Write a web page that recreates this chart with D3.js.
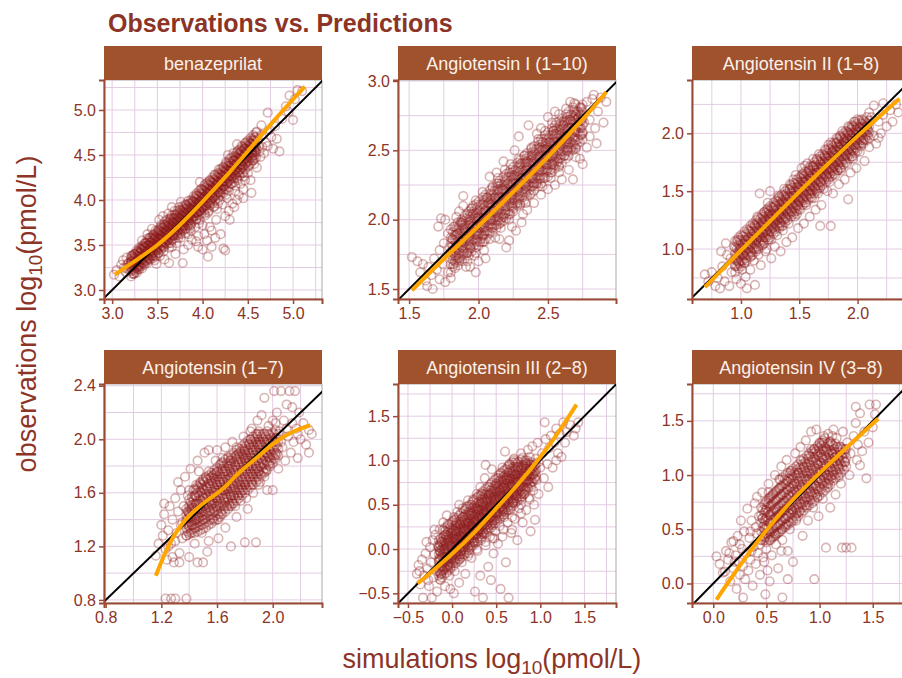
<!DOCTYPE html>
<html>
<head>
<meta charset="utf-8">
<script src="https://cdn.jsdelivr.net/npm/d3@7"></script>
<style>
  body { margin: 0; background: #fff; }
  svg { display: block; }
</style>
</head>
<body>
<script>
// Panels: one per analyte, observed vs simulated concentrations on log10 scale
const analytes = [
  "benazeprilat",
  "Angiotensin I (1\u221210)",
  "Angiotensin II (1\u22128)",
  "Angiotensin (1\u22127)",
  "Angiotensin III (2\u22128)",
  "Angiotensin IV (3\u22128)"
];

// Axis ranges (log10 pmol/L) and tick spacing per panel
const xDomains = [[2.91, 5.32], [1.42, 2.99], [0.58, 2.45], [0.788, 2.354], [-0.613, 1.858], [-0.2, 1.85]];
const yDomains = [[2.9, 5.333], [1.428, 3.007], [0.568, 2.461], [0.777, 2.413], [-0.609, 1.863], [-0.18, 1.84]];
const tickSteps = [0.5, 0.5, 0.5, 0.4, 0.5, 0.5];

// Individual observations as "simulated,observed" pairs
const benazeprilatPts = `
3.02,3.17 3.05,3.22 3.08,3.15 3.10,3.28 3.12,3.33 3.15,3.20 3.18,3.30 3.20,3.25 3.22,3.38 3.24,3.18 3.26,3.32 3.28,3.42 3.30,3.28 3.16,3.36 3.21,3.31 3.27,3.24 3.29,3.36 3.13,3.25
3.32,3.45 3.34,3.38 3.35,3.30 3.37,3.52 3.38,3.42 3.40,3.35 3.41,3.58 3.42,3.47 3.44,3.40 3.45,3.55 3.46,3.62 3.47,3.33 3.48,3.50 3.50,3.44 3.51,3.66 3.52,3.56 3.53,3.38 3.54,3.70 3.55,3.49 3.56,3.60 3.57,3.43 3.58,3.76 3.59,3.53 3.60,3.64 3.36,3.48 3.39,3.62 3.43,3.53 3.49,3.29 3.37,3.37 3.48,3.37 3.52,3.78 3.58,3.34 3.33,3.55 3.44,3.68 3.56,3.82
3.61,3.58 3.62,3.72 3.63,3.47 3.64,3.66 3.65,3.80 3.66,3.55 3.67,3.70 3.68,3.62 3.69,3.88 3.70,3.67 3.71,3.52 3.72,3.76 3.73,3.64 3.74,3.92 3.75,3.70 3.76,3.58 3.77,3.82 3.78,3.74 3.79,3.45 3.80,3.86 3.81,3.68 3.82,3.95 3.83,3.78 3.84,3.62 3.85,3.90 3.86,3.74 3.87,3.84 3.88,3.56 3.89,3.98 3.63,3.30 3.78,3.30 3.70,3.40 3.66,3.92 3.72,3.84 3.84,3.50 3.87,3.66 3.76,3.98 3.62,3.85 3.80,3.72 3.68,3.76
3.90,3.82 3.91,3.93 3.92,3.70 3.93,4.05 3.94,3.86 3.95,3.60 3.96,3.98 3.97,3.78 3.98,4.12 3.99,3.90 4.00,3.72 4.01,4.02 4.02,3.85 4.03,4.18 4.04,3.94 4.05,3.55 4.06,4.08 4.07,3.88 4.08,4.22 4.09,3.98 4.10,3.66 4.11,4.12 4.12,3.92 4.13,4.28 4.14,4.04 4.15,3.78 4.16,4.16 4.17,3.96 4.18,4.34 4.19,4.08 4.06,3.37 4.10,3.48 4.00,3.45 3.95,3.48 4.14,3.58 4.20,3.62 3.93,3.54 4.02,3.62 4.08,3.70 3.97,4.20
4.21,4.20 4.22,3.95 4.23,4.36 4.23,3.46 4.25,3.44 4.24,4.12 4.26,4.42 4.27,4.02 4.28,4.26 4.29,3.88 4.30,4.46 4.30,3.78 4.31,4.18 4.32,4.32 4.33,3.96 4.34,4.52 4.35,4.24 4.36,4.10 4.37,4.40 4.38,4.00 4.39,4.55 4.40,4.30 4.40,4.06 4.41,4.46 4.42,4.18 4.43,4.60 4.44,4.36 4.45,4.12 4.46,4.50 4.47,4.22 4.48,4.64 4.49,4.42 4.25,3.82 4.35,3.92 4.28,4.50 4.38,4.62 4.45,4.02
4.50,4.30 4.52,4.56 4.54,4.08 4.55,4.44 4.56,4.66 4.58,4.54 4.60,4.36 4.62,4.60 4.64,4.48 4.65,4.72 4.66,4.59 4.68,4.52 4.70,4.64 4.72,4.60 4.72,4.97 4.74,4.78 4.76,4.70 4.78,4.57 4.80,4.82 4.82,4.68 4.85,4.54 4.88,4.90 4.65,4.83 4.60,4.76 4.53,4.22 4.57,4.40
4.96,5.16 5.05,5.22 5.10,5.21 5.00,4.89 4.95,4.98 4.92,5.04 5.02,5.12
3.15,3.24 3.17,3.29 3.19,3.22 3.21,3.35 3.23,3.27 3.25,3.40 3.27,3.30 3.29,3.26 3.31,3.42 3.33,3.34 3.35,3.47 3.37,3.40 3.39,3.33 3.41,3.50 3.43,3.44 3.45,3.38 3.47,3.57 3.49,3.47 3.51,3.41 3.53,3.61 3.55,3.53 3.57,3.48 3.59,3.66 3.61,3.55 3.63,3.62 3.65,3.52 3.67,3.74 3.69,3.61 3.71,3.70 3.73,3.58 3.75,3.80 3.77,3.69 3.79,3.77 3.81,3.63 3.83,3.86 3.85,3.79 3.87,3.72 3.89,3.91 3.91,3.85 3.93,3.78 3.95,3.95 3.97,3.88 3.99,4.00 4.01,3.92 4.03,3.83 4.05,4.06 4.07,3.96 4.09,4.11 4.11,4.02 4.13,3.93 4.15,4.18 4.17,4.08 4.19,4.00 4.21,4.26 4.23,4.15 4.25,4.32 4.27,4.20 4.29,4.10 4.31,4.38 4.33,4.26 4.35,4.44 4.37,4.34 4.39,4.22 4.41,4.52 4.43,4.40 4.45,4.30 4.47,4.57 4.49,4.48 4.51,4.38 4.53,4.62 4.55,4.52 4.57,4.46 4.59,4.58 4.61,4.68 4.63,4.54
3.66,3.48 3.76,3.62 3.86,3.68 3.96,3.74 4.06,3.86 4.16,3.90 4.26,4.06 4.36,4.16 4.46,4.26`;

const angI_Pts = `
1.52,1.73 1.56,1.70 1.58,1.62 1.60,1.68 1.62,1.56 1.64,1.66 1.66,1.60 1.68,1.72 1.70,1.64 1.72,1.57 1.74,1.68 1.76,1.55 1.78,1.62 1.80,1.58 1.63,1.52 1.67,1.50 1.72,1.78 1.75,1.83 1.71,1.95 1.73,2.01 1.76,2.00 1.78,1.90 1.80,1.75 1.82,1.68 1.79,1.80
1.81,1.86 1.82,1.95 1.83,1.78 1.84,2.02 1.85,1.90 1.86,1.72 1.87,1.98 1.88,1.84 1.89,2.10 1.90,1.93 1.91,1.66 1.92,2.04 1.93,1.88 1.94,1.80 1.95,2.08 1.96,1.95 1.97,1.74 1.98,2.14 1.99,1.90 2.00,2.02 2.01,1.84 2.02,1.96 2.03,2.20 2.04,1.78 2.05,2.06 2.06,1.92 2.07,2.12 2.08,1.86 2.09,2.00 2.10,2.24 1.89,2.17 1.94,1.66 1.98,1.62 2.05,1.72 1.86,2.06 1.92,1.76 2.00,1.70 2.08,2.31 1.96,2.10 2.03,1.88
2.11,2.06 2.12,1.87 2.12,2.16 2.13,1.96 2.14,2.30 2.15,2.08 2.16,1.94 2.17,2.22 2.18,2.02 2.19,2.36 2.20,1.80 2.20,2.14 2.21,2.26 2.22,2.00 2.23,2.40 2.24,2.18 2.25,2.08 2.26,2.32 2.27,1.92 2.28,2.22 2.29,2.60 2.29,2.44 2.30,2.12 2.31,2.30 2.32,2.04 2.33,2.46 2.34,2.24 2.35,2.07 2.35,2.38 2.36,2.68 2.37,2.18 2.38,2.52 2.39,2.30 2.40,2.12 2.15,1.86 2.22,1.85 2.18,2.42 2.26,2.50 2.13,2.34 2.31,1.98 2.24,1.95
2.41,2.44 2.42,2.26 2.43,2.58 2.44,2.36 2.45,2.18 2.46,2.50 2.47,2.30 2.48,2.64 2.49,2.40 2.50,2.22 2.51,2.56 2.52,2.34 2.53,2.70 2.54,2.48 2.55,2.25 2.56,2.62 2.57,2.42 2.58,2.76 2.59,2.54 2.60,2.29 2.61,2.68 2.62,2.46 2.63,2.80 2.64,2.58 2.65,2.36 2.66,2.72 2.67,2.52 2.68,2.29 2.69,2.84 2.70,2.64 2.45,2.66 2.50,2.74 2.55,2.78 2.42,2.62 2.58,2.38 2.62,2.60 2.48,2.50 2.53,2.40 2.66,2.85 2.56,2.70
2.71,2.54 2.72,2.74 2.73,2.44 2.74,2.80 2.75,2.62 2.76,2.70 2.78,2.52 2.78,2.85 2.80,2.60 2.80,2.72 2.82,2.87 2.84,2.66 2.86,2.78 2.88,2.88 2.90,2.70 2.92,2.85 2.85,2.55 2.75,2.40 2.70,2.45 2.83,2.90
1.92,1.70 1.98,1.76 2.04,1.84 2.10,1.94 2.16,1.98 2.22,2.04 2.28,2.12 2.34,2.12 2.40,2.26 2.46,2.24 2.52,2.30 2.58,2.34 2.64,2.50 2.70,2.52 1.88,1.98 1.96,2.04 2.06,2.16 2.14,2.26 2.22,2.34 2.30,2.40 2.38,2.46 2.46,2.56 2.54,2.64 2.62,2.70 2.70,2.76`;

const angII_Pts = `
0.69,0.78 0.72,0.72 0.75,0.80 0.78,0.68 0.80,0.75 0.82,0.66 0.84,0.85 0.86,0.72 0.88,0.95 0.90,0.68 0.92,0.80 0.94,1.02 0.96,0.74 0.98,0.88 1.00,0.70 1.02,0.96 1.05,0.66 1.08,0.82 1.12,0.69 0.87,1.05 0.91,0.92 0.95,0.85 0.99,1.00 1.03,0.88 1.06,1.04 1.09,0.94 1.04,0.76 0.83,0.98 0.97,1.08 1.01,0.82
1.10,1.08 1.11,0.90 1.12,1.20 1.13,1.00 1.14,1.28 1.15,0.95 1.16,1.48 1.16,1.12 1.17,0.86 1.18,1.22 1.19,1.04 1.20,1.32 1.21,0.98 1.22,1.16 1.23,1.40 1.24,1.08 1.25,1.50 1.25,1.26 1.26,0.92 1.27,1.18 1.28,1.36 1.29,1.02 1.30,1.28 1.31,1.12 1.32,1.44 1.33,1.20 1.34,0.98 1.35,1.34 1.36,1.16 1.37,1.52 1.38,1.26 1.39,1.06 1.40,1.40 1.14,1.10 1.22,1.00 1.28,1.22 1.33,1.30 1.19,1.14 1.36,1.42 1.24,1.30
1.41,1.22 1.42,1.56 1.43,1.32 1.44,1.10 1.45,1.46 1.46,1.28 1.47,1.64 1.48,1.38 1.49,1.18 1.50,1.52 1.51,1.34 1.52,1.70 1.53,1.44 1.54,1.22 1.55,1.58 1.56,1.40 1.57,1.74 1.58,1.50 1.59,1.28 1.60,1.62 1.61,1.44 1.62,1.78 1.63,1.54 1.64,1.34 1.65,1.66 1.66,1.48 1.67,1.82 1.68,1.58 1.68,1.20 1.69,1.38 1.70,1.70 1.45,1.60 1.50,1.42 1.55,1.72 1.60,1.48 1.65,1.78 1.48,1.30 1.58,1.68 1.63,1.44 1.53,1.58
1.71,1.52 1.72,1.86 1.73,1.64 1.74,1.50 1.75,1.76 1.76,1.58 1.77,1.20 1.77,1.92 1.78,1.70 1.79,1.48 1.80,1.82 1.81,1.64 1.82,1.96 1.83,1.76 1.84,1.56 1.85,1.88 1.86,1.70 1.87,2.02 1.88,1.80 1.89,1.60 1.90,1.92 1.91,1.74 1.92,1.43 1.92,2.06 1.93,1.86 1.94,1.66 1.95,1.96 1.96,1.78 1.97,2.10 1.98,1.90 1.99,1.70 2.00,2.02 1.75,1.90 1.80,1.72 1.85,1.98 1.90,1.82 1.95,2.05 1.83,1.68 1.88,1.92 1.78,1.84
2.02,1.84 2.04,2.12 2.05,1.94 2.06,1.76 2.08,2.06 2.10,1.88 2.12,2.14 2.14,2.24 2.14,1.98 2.16,1.91 2.18,2.10 2.20,2.00 2.22,2.26 2.22,2.16 2.25,2.06 2.28,2.20 2.30,2.10 2.33,2.25 2.35,2.18 2.10,2.18 2.06,2.02 2.18,1.96
1.22,1.34 1.32,1.46 1.42,1.52 1.52,1.64 1.62,1.72 1.72,1.80 1.82,1.92 1.92,2.00 1.26,1.08 1.36,1.20 1.46,1.32 1.56,1.38 1.66,1.52 1.76,1.62 1.86,1.68 1.96,1.80`;

const ang17_Pts = `
1.23,0.81 1.27,0.81 1.30,0.81 1.38,0.81
1.16,1.13 1.18,1.22 1.20,1.36 1.21,1.28 1.22,1.44 1.23,1.18 1.24,1.10 1.25,1.32 1.26,1.50 1.27,1.22 1.28,1.40 1.29,1.08 1.30,1.56 1.31,1.30 1.32,1.46 1.33,1.15 1.34,1.62 1.35,1.38 1.25,1.20 1.30,1.24 1.33,1.08 1.28,1.12 1.22,1.52 1.35,1.26 1.32,1.68
1.36,1.50 1.37,1.72 1.38,1.28 1.39,1.58 1.40,1.12 1.40,1.44 1.41,1.78 1.42,1.36 1.43,1.62 1.44,1.22 1.45,1.52 1.46,1.84 1.46,1.08 1.47,1.42 1.48,1.68 1.49,1.30 1.50,1.56 1.50,1.08 1.51,1.90 1.52,1.46 1.53,1.64 1.54,1.24 1.54,1.92 1.55,1.54 1.42,1.48 1.45,1.66 1.48,1.48 1.52,1.72 1.38,1.40 1.44,1.58 1.50,1.40 1.53,1.16 1.47,1.76 1.41,1.30
1.56,1.72 1.57,1.40 1.58,1.60 1.59,1.84 1.60,1.92 1.60,1.50 1.61,1.26 1.62,1.68 1.63,1.44 1.64,1.78 1.65,1.56 1.66,1.94 1.66,1.34 1.67,1.64 1.68,1.86 1.69,1.50 1.70,1.72 1.70,1.20 1.71,1.98 1.72,1.58 1.73,1.80 1.74,1.42 1.75,1.68 1.58,1.74 1.62,1.52 1.64,1.62 1.68,1.70 1.72,1.66 1.74,1.88 1.60,1.66 1.66,1.76 1.70,1.58 1.63,1.82 1.57,1.58 1.73,1.50
1.76,1.90 1.77,1.54 1.78,1.76 1.79,2.02 1.80,1.66 1.80,1.23 1.81,1.84 1.82,1.48 1.83,1.96 1.84,1.72 1.85,2.08 1.86,1.60 1.87,1.88 1.88,1.23 1.88,1.78 1.89,2.14 1.90,1.66 1.91,1.96 1.92,1.84 1.93,2.04 1.94,1.72 1.94,2.31 1.95,1.90 1.78,1.62 1.82,1.80 1.86,1.92 1.90,1.76 1.84,2.00 1.92,2.18 1.80,1.92
1.96,1.62 1.97,2.10 1.98,1.82 2.00,1.62 2.00,2.00 2.01,2.36 2.02,1.88 2.03,2.20 2.04,1.78 2.05,2.06 2.06,2.36 2.07,1.94 2.08,2.14 2.09,1.84 2.10,2.26 2.11,2.02 2.12,2.36 2.13,1.90 2.14,2.12 2.15,1.98 2.16,2.36 2.17,2.08 2.18,1.86 2.19,2.20 2.20,2.00 2.22,2.12 2.24,1.96 2.26,2.07 2.26,1.90 2.28,2.04 2.06,1.98 2.10,2.08 2.02,2.12 2.14,2.24 2.18,2.04
1.40,1.62 1.45,1.40 1.50,1.70 1.55,1.46 1.60,1.76 1.65,1.50 1.70,1.84 1.75,1.58 1.80,1.86 1.85,1.66 1.90,1.96 1.95,1.76 2.00,2.14 1.49,1.64 1.54,1.76 1.59,1.70 1.64,1.86 1.69,1.80 1.74,1.94 1.79,1.88 1.84,2.06 1.89,2.04 1.56,1.52 1.61,1.40 1.66,1.62 1.71,1.52 1.76,1.66 1.81,1.56 1.86,1.74 1.91,1.68 1.34,1.36 1.39,1.46 1.44,1.34`;

const angIII_Pts = `
-0.40,-0.28 -0.38,-0.18 -0.36,-0.40 -0.34,-0.12 -0.32,-0.30 -0.30,-0.05 -0.29,0.08 -0.28,-0.22 -0.26,-0.42 -0.25,0.02 -0.24,-0.15 -0.23,-0.55 -0.22,0.10 -0.21,-0.32 -0.20,-0.06 -0.19,0.16 -0.18,-0.25 -0.17,-0.48 -0.16,0.04 -0.15,-0.12 -0.14,0.22 -0.13,-0.35 -0.12,0.08 -0.11,-0.20 -0.10,0.30 -0.33,-0.55 -0.27,-0.35 -0.20,0.22 -0.14,-0.02 -0.37,-0.25
-0.09,0.00 -0.08,-0.42 -0.07,0.16 -0.06,0.38 -0.05,-0.18 -0.04,0.10 -0.03,-0.30 -0.02,0.24 -0.02,-0.45 -0.01,0.04 0.00,-0.10 0.01,0.32 0.02,0.12 0.03,-0.25 0.04,0.20 0.05,-0.05 0.06,0.42 0.07,0.06 0.08,-0.38 0.09,0.28 0.10,0.14 0.11,-0.15 0.12,0.36 0.13,0.02 0.14,0.22 0.15,-0.28 0.16,0.48 0.17,0.10 0.18,0.30 0.19,-0.05 0.20,0.18 -0.05,0.28 0.00,0.18 0.05,0.30 0.10,-0.02 0.15,0.08 0.18,0.55 0.02,-0.50 0.08,0.50 0.12,0.20
0.21,0.38 0.22,-0.10 0.23,0.26 0.24,0.56 0.25,0.08 0.26,-0.48 0.26,0.32 0.27,0.16 0.28,0.62 0.29,-0.02 0.30,0.44 0.31,0.22 0.32,-0.30 0.32,0.70 0.33,0.10 0.34,0.36 0.35,-0.55 0.35,0.52 0.36,0.18 0.37,0.80 0.38,0.04 0.39,0.42 0.40,0.28 0.41,-0.20 0.42,0.62 0.43,0.14 0.44,0.48 0.45,0.90 0.46,0.32 0.47,-0.05 0.48,0.56 0.49,0.20 0.50,0.74 0.24,0.30 0.30,0.20 0.36,0.40 0.42,0.34 0.28,0.46 0.40,0.56 0.46,0.12 0.34,0.62 0.44,-0.35 0.38,0.95
0.51,0.40 0.52,0.06 0.53,0.60 0.54,0.26 0.55,-0.45 0.55,0.86 0.56,0.48 0.57,0.14 0.58,0.70 0.59,0.36 0.60,1.10 0.60,0.54 0.61,-0.15 0.62,0.78 0.63,0.30 0.64,-0.55 0.64,0.62 0.65,0.96 0.66,0.44 0.67,0.18 0.68,0.72 0.69,0.52 0.70,1.02 0.71,0.34 0.72,0.84 0.73,0.60 0.74,0.10 0.75,0.92 0.76,0.46 0.77,0.70 0.78,1.08 0.79,0.56 0.80,0.30 0.54,0.66 0.58,0.44 0.62,0.58 0.66,0.80 0.70,0.64 0.74,0.76 0.78,0.40 0.57,0.92 0.68,0.22
0.81,0.82 0.82,0.62 0.83,1.00 0.84,0.44 0.85,0.76 0.86,1.12 0.87,0.58 0.88,0.90 0.89,0.20 0.90,0.70 0.91,1.16 0.92,0.84 0.93,0.50 0.94,0.33 0.95,1.02 0.96,0.78 0.97,1.20 0.98,0.62 1.00,0.92 1.02,1.08 1.04,0.80 1.05,1.43 1.06,1.24 1.08,0.96 1.09,0.70 1.10,1.14 0.88,1.04 0.92,0.66 0.98,0.98 0.84,0.96
1.12,1.28 1.14,0.92 1.16,1.20 1.18,1.36 1.20,1.08 1.22,1.30 1.24,1.04 1.26,1.43 1.28,1.20 1.30,1.32 1.34,1.40 1.38,1.28 1.43,1.43 1.40,1.36 1.18,1.00
-0.15,0.02 -0.08,0.20 0.02,0.36 0.12,0.46 0.22,0.50 0.32,0.60 0.42,0.70 0.52,0.80 0.62,0.90 0.72,0.98 -0.12,-0.28 -0.02,-0.20 0.08,-0.12 0.18,-0.08 0.28,0.00 0.38,0.08 0.48,0.12 0.58,0.22 0.68,0.36 0.78,0.50 0.88,0.56`;

const angIV_Pts = `
0.03,0.25 0.06,0.18 0.09,0.10 0.11,0.11 0.12,0.30 0.14,0.22 0.16,0.02 0.17,0.38 0.19,0.39 0.19,0.14 0.21,0.26 0.22,-0.05 0.23,0.44 0.24,0.20 0.25,0.08 0.26,0.58 0.27,0.32 0.28,-0.13 0.28,0.16 0.29,0.48 0.30,0.04 0.20,0.20 0.25,0.36 0.15,0.28
0.31,0.28 0.32,0.69 0.33,0.12 0.34,0.42 0.35,0.22 0.36,0.58 0.37,-0.02 0.38,0.34 0.39,0.74 0.40,0.18 0.41,0.80 0.41,0.46 0.42,0.28 0.43,0.62 0.44,0.08 0.45,0.40 0.46,0.84 0.47,0.24 0.48,0.54 0.49,-0.10 0.50,0.70 0.50,0.32 0.51,0.12 0.52,0.92 0.53,0.46 0.54,0.62 0.55,0.26 0.36,0.30 0.40,0.52 0.44,0.36 0.48,0.20 0.52,0.78 0.35,0.48 0.46,0.60 0.53,0.02
0.56,0.82 0.57,0.48 0.58,1.00 0.59,0.36 0.60,0.66 0.61,0.14 0.62,0.88 0.63,0.54 0.64,1.08 0.65,-0.13 0.65,0.40 0.66,0.74 0.67,0.96 0.68,0.60 0.69,1.14 0.70,0.30 0.71,0.82 0.72,0.50 0.73,1.04 0.74,0.68 0.75,0.20 0.76,0.92 0.77,1.20 0.78,0.58 0.79,0.80 0.80,1.02 0.64,0.30 0.70,0.04
0.81,0.66 0.82,1.26 0.83,0.88 0.84,0.44 0.85,1.08 0.86,0.76 0.87,1.32 0.88,0.96 0.89,0.58 0.90,1.18 0.91,0.84 0.92,1.40 0.93,1.02 0.94,0.70 0.95,1.24 0.95,0.04 0.96,0.90 0.97,1.42 0.98,1.10 0.99,0.62 1.00,1.30 1.01,0.96 1.02,1.16 1.03,0.78 1.04,1.36 1.05,1.04
1.06,1.22 1.07,0.88 1.08,1.38 1.09,1.08 1.10,0.70 1.10,1.30 1.12,1.00 1.13,1.42 1.14,1.16 1.15,0.82 1.16,1.34 1.18,1.06 1.19,1.26 1.20,0.92 1.21,0.33 1.22,1.40 1.24,1.12 1.25,0.33 1.26,1.30 1.28,1.00 1.29,1.20 1.30,0.33 1.08,1.00 1.12,1.20 1.18,1.14 1.24,1.24 1.06,0.33
1.32,1.36 1.34,1.63 1.35,1.14 1.36,1.28 1.38,1.09 1.38,1.57 1.40,1.22 1.42,1.40 1.44,0.97 1.46,1.30 1.47,1.65 1.50,1.44 1.53,1.65 1.52,1.56 1.34,1.48
0.52,0.84 0.62,0.96 0.72,1.02 0.82,1.14 0.92,1.24 1.02,1.30 1.12,1.36 0.48,0.40 0.58,0.46 0.68,0.54 0.78,0.64 0.88,0.72 0.98,0.80 1.08,0.92 1.18,0.98`;

// Dense cores: observations grouped by shared simulated value, "sim:obs/obs/..."
const benazeprilatCols = `
3.21:3.15/3.21/3.25/3.29/3.32/3.38 3.24:3.18/3.22/3.27/3.30/3.36/3.40 3.27:3.19/3.25/3.30/3.33/3.38/3.44 3.30:3.23/3.26/3.32/3.37/3.41/3.47
3.33:3.24/3.30/3.34/3.39/3.45/3.49 3.36:3.28/3.33/3.37/3.43/3.47/3.52 3.39:3.30/3.35/3.41/3.45/3.50/3.57 3.42:3.34/3.38/3.43/3.49/3.52/3.58
3.45:3.35/3.42/3.46/3.51/3.57/3.61 3.48:3.39/3.44/3.49/3.55/3.59/3.66 3.51:3.41/3.48/3.52/3.57/3.63/3.67 3.54:3.45/3.50/3.56/3.60/3.65/3.72
3.57:3.47/3.54/3.58/3.64/3.69/3.73 3.60:3.51/3.56/3.61/3.66/3.71/3.78 3.63:3.52/3.59/3.63/3.69/3.74/3.79 3.66:3.56/3.61/3.67/3.71/3.76/3.83
3.69:3.57/3.64/3.68/3.74/3.80/3.84 3.72:3.61/3.66/3.71/3.77/3.81/3.88 3.75:3.63/3.69/3.75/3.79/3.85/3.89 3.78:3.66/3.72/3.76/3.82/3.87/3.93
3.81:3.68/3.75/3.80/3.84/3.90/3.95 3.84:3.72/3.77/3.82/3.88/3.92/3.99 3.87:3.73/3.80/3.85/3.90/3.96/4.00 3.90:3.77/3.82/3.88/3.93/3.98/4.04
3.93:3.79/3.86/3.90/3.96/4.01/4.07 3.96:3.83/3.88/3.94/3.98/4.04/4.10 3.99:3.85/3.92/3.96/4.02/4.07/4.12 4.02:3.89/3.94/4.00/4.04/4.10/4.16
4.05:3.90/3.97/4.02/4.08/4.12/4.19 4.08:3.94/4.00/4.06/4.10/4.16/4.21 4.11:3.96/4.03/4.08/4.14/4.19/4.25 4.14:4.00/4.06/4.12/4.16/4.22/4.28
4.17:4.02/4.09/4.14/4.20/4.25/4.30 4.20:4.06/4.12/4.18/4.22/4.28/4.34 4.23:4.08/4.15/4.20/4.26/4.31/4.37 4.26:4.12/4.18/4.24/4.29/4.34/4.40
4.29:4.14/4.21/4.26/4.32/4.38/4.43 4.32:4.18/4.24/4.30/4.35/4.40/4.47 4.35:4.20/4.28/4.33/4.38/4.44/4.49 4.38:4.24/4.30/4.36/4.42/4.47/4.53
4.41:4.27/4.34/4.39/4.45/4.50/4.56 4.44:4.30/4.37/4.43/4.48/4.54/4.59 4.47:4.34/4.40/4.46/4.51/4.57/4.63 4.50:4.37/4.43/4.49/4.55/4.60/4.66
4.53:4.40/4.47/4.52/4.58/4.63/4.69 4.56:4.44/4.50/4.56/4.61/4.66/4.72 4.59:4.47/4.53/4.59/4.64/4.70/4.75
3.225:3.18/3.23/3.28/3.33/3.38 3.255:3.20/3.25/3.31/3.35/3.40 3.285:3.23/3.28/3.33/3.38/3.43 3.315:3.26/3.31/3.36/3.41/3.46
3.345:3.29/3.34/3.39/3.44/3.49 3.375:3.32/3.37/3.42/3.47/3.52 3.405:3.35/3.40/3.45/3.50/3.55 3.435:3.38/3.43/3.48/3.53/3.58
3.465:3.41/3.46/3.51/3.56/3.61 3.495:3.44/3.49/3.54/3.59/3.64 3.525:3.47/3.52/3.57/3.61/3.66 3.555:3.49/3.54/3.59/3.64/3.69
3.585:3.52/3.57/3.62/3.67/3.72 3.615:3.55/3.60/3.65/3.70/3.75 3.645:3.58/3.63/3.68/3.73/3.78 3.675:3.60/3.65/3.70/3.75/3.80
3.705:3.63/3.68/3.73/3.78/3.83 3.735:3.66/3.71/3.76/3.81/3.86 3.765:3.68/3.73/3.78/3.83/3.88 3.795:3.71/3.76/3.81/3.86/3.91
3.825:3.74/3.79/3.84/3.89/3.94 3.855:3.77/3.82/3.87/3.91/3.96 3.885:3.79/3.84/3.89/3.94/3.99 3.915:3.82/3.87/3.92/3.97/4.02
3.945:3.85/3.90/3.95/4.00/4.05 3.975:3.88/3.93/3.98/4.03/4.08 4.005:3.91/3.96/4.01/4.06/4.11 4.035:3.94/3.99/4.04/4.09/4.14
4.065:3.97/4.02/4.07/4.12/4.17 4.095:4.00/4.05/4.10/4.15/4.20 4.125:4.03/4.08/4.13/4.18/4.23 4.155:4.06/4.11/4.16/4.21/4.26
4.185:4.09/4.14/4.19/4.24/4.29 4.215:4.12/4.17/4.22/4.27/4.32 4.245:4.16/4.21/4.26/4.30/4.35 4.275:4.19/4.24/4.29/4.33/4.38
4.305:4.22/4.27/4.32/4.36/4.41 4.335:4.25/4.30/4.35/4.39/4.44 4.365:4.28/4.33/4.38/4.43/4.48 4.395:4.31/4.36/4.41/4.46/4.51
4.425:4.34/4.39/4.44/4.49/4.54 4.455:4.38/4.43/4.48/4.52/4.57 4.485:4.41/4.46/4.51/4.56/4.61 4.515:4.44/4.49/4.54/4.59/4.64
4.545:4.47/4.52/4.57/4.62/4.67 4.575:4.50/4.55/4.60/4.65/4.70`;

const angI_Cols = `
1.80:1.62/1.68/1.72/1.77/1.83/1.87/1.93 1.83:1.65/1.70/1.74/1.80/1.85/1.89/1.95 1.85:1.67/1.72/1.78/1.82/1.87/1.93/1.98 1.88:1.70/1.75/1.80/1.84/1.90/1.96/2.00
1.90:1.72/1.77/1.83/1.88/1.92/1.97/2.03 1.93:1.74/1.81/1.85/1.90/1.96/2.00/2.06 1.95:1.77/1.82/1.88/1.92/1.97/2.03/2.08 1.98:1.80/1.85/1.89/1.95/2.01/2.05/2.11
2.00:1.81/1.88/1.92/1.97/2.02/2.07/2.13 2.03:1.84/1.89/1.95/2.00/2.05/2.11/2.16 2.05:1.86/1.92/1.98/2.02/2.07/2.13/2.18 2.08:1.90/1.95/2.00/2.05/2.11/2.15/2.21
2.10:1.91/1.97/2.03/2.07/2.12/2.18/2.23 2.13:1.94/2.00/2.05/2.10/2.15/2.21/2.26 2.15:1.97/2.02/2.07/2.13/2.17/2.22/2.28 2.18:1.99/2.04/2.10/2.15/2.21/2.25/2.31
2.20:2.01/2.07/2.13/2.17/2.22/2.28/2.33 2.23:2.04/2.10/2.15/2.20/2.25/2.31/2.36 2.25:2.06/2.12/2.18/2.22/2.27/2.32/2.38 2.28:2.10/2.15/2.20/2.25/2.31/2.35/2.41
2.30:2.11/2.17/2.23/2.27/2.32/2.38/2.43 2.33:2.14/2.20/2.25/2.30/2.35/2.41/2.46 2.35:2.17/2.22/2.27/2.33/2.37/2.42/2.48 2.38:2.19/2.24/2.30/2.35/2.41/2.45/2.51
2.40:2.21/2.27/2.33/2.37/2.42/2.48/2.53 2.43:2.24/2.30/2.35/2.40/2.45/2.51/2.56 2.45:2.26/2.32/2.38/2.42/2.47/2.52/2.58 2.48:2.30/2.35/2.40/2.45/2.51/2.55/2.61
2.50:2.31/2.37/2.43/2.47/2.52/2.58/2.63 2.53:2.34/2.40/2.45/2.50/2.55/2.61/2.66 2.55:2.37/2.42/2.47/2.53/2.57/2.62/2.68 2.58:2.39/2.44/2.50/2.55/2.61/2.65/2.71
2.60:2.41/2.47/2.53/2.57/2.62/2.68/2.73 2.63:2.44/2.50/2.55/2.60/2.65/2.71/2.76 2.65:2.46/2.52/2.58/2.62/2.67/2.72/2.78 2.68:2.50/2.55/2.60/2.65/2.71/2.75/2.81
2.70:2.51/2.57/2.63/2.67/2.72/2.78/2.83 2.73:2.56/2.61/2.66/2.71/2.76/2.81 2.75:2.58/2.63/2.68/2.73/2.78/2.83
1.815:1.66/1.71/1.76/1.81/1.86/1.91 1.84:1.69/1.74/1.79/1.84/1.89/1.94 1.865:1.71/1.76/1.81/1.86/1.91/1.96 1.89:1.74/1.79/1.84/1.89/1.94/1.99
1.915:1.76/1.81/1.86/1.91/1.96/2.01 1.94:1.79/1.84/1.89/1.94/1.99/2.04 1.965:1.81/1.86/1.91/1.96/2.01/2.06 1.99:1.84/1.89/1.94/1.99/2.04/2.09
2.015:1.86/1.91/1.96/2.01/2.06/2.11 2.04:1.89/1.94/1.99/2.04/2.09/2.14 2.065:1.91/1.96/2.01/2.06/2.11/2.16 2.09:1.94/1.99/2.04/2.09/2.14/2.19
2.115:1.96/2.01/2.06/2.11/2.16/2.21 2.14:1.99/2.04/2.09/2.14/2.19/2.24 2.165:2.01/2.06/2.11/2.16/2.21/2.26 2.19:2.04/2.09/2.14/2.19/2.24/2.29
2.215:2.06/2.11/2.16/2.21/2.26/2.31 2.24:2.09/2.14/2.19/2.24/2.29/2.34 2.265:2.11/2.16/2.21/2.26/2.31/2.36 2.29:2.14/2.19/2.24/2.29/2.34/2.39
2.315:2.16/2.21/2.26/2.31/2.36/2.41 2.34:2.19/2.24/2.29/2.34/2.39/2.44 2.365:2.21/2.26/2.31/2.36/2.41/2.46 2.39:2.24/2.29/2.34/2.39/2.44/2.49
2.415:2.26/2.31/2.36/2.41/2.46/2.51 2.44:2.29/2.34/2.39/2.44/2.49/2.54 2.465:2.31/2.36/2.41/2.46/2.51/2.56 2.49:2.34/2.39/2.44/2.49/2.54/2.59
2.515:2.36/2.41/2.46/2.51/2.56/2.61 2.54:2.39/2.44/2.49/2.54/2.59/2.64 2.565:2.41/2.46/2.51/2.56/2.61/2.66 2.59:2.44/2.49/2.54/2.59/2.64/2.69
2.615:2.46/2.51/2.56/2.61/2.66/2.71 2.64:2.49/2.54/2.59/2.64/2.69/2.74 2.665:2.51/2.56/2.61/2.66/2.71/2.76 2.69:2.54/2.59/2.64/2.69/2.74/2.79
2.715:2.58/2.63/2.68/2.73/2.78 2.74:2.61/2.66/2.71/2.76/2.81`;

const angII_Cols = `
0.95:0.80/0.86/0.91/0.96/1.01/1.07 0.98:0.83/0.89/0.94/0.98/1.04/1.10 1.00:0.85/0.90/0.96/1.01/1.07/1.12 1.03:0.88/0.94/0.99/1.04/1.08/1.15
1.05:0.90/0.96/1.01/1.07/1.11/1.17 1.08:0.93/0.98/1.04/1.09/1.15/1.20 1.10:0.95/1.01/1.06/1.11/1.16/1.22 1.13:0.98/1.04/1.08/1.14/1.19/1.25
1.15:1.00/1.06/1.11/1.16/1.22/1.27 1.18:1.03/1.08/1.14/1.19/1.24/1.30 1.20:1.05/1.10/1.16/1.21/1.26/1.32 1.23:1.08/1.13/1.19/1.24/1.29/1.35
1.25:1.10/1.16/1.21/1.26/1.31/1.37 1.28:1.13/1.19/1.24/1.29/1.34/1.40 1.30:1.15/1.21/1.26/1.31/1.37/1.42 1.33:1.18/1.23/1.29/1.34/1.39/1.45
1.35:1.20/1.26/1.31/1.36/1.41/1.47 1.38:1.23/1.28/1.34/1.39/1.44/1.50 1.40:1.25/1.31/1.36/1.41/1.46/1.52 1.43:1.28/1.33/1.39/1.44/1.49/1.55
1.45:1.30/1.36/1.41/1.46/1.51/1.57 1.48:1.33/1.38/1.44/1.49/1.54/1.60 1.50:1.35/1.41/1.46/1.51/1.56/1.62 1.53:1.38/1.43/1.49/1.54/1.59/1.65
1.55:1.40/1.46/1.51/1.56/1.61/1.67 1.58:1.43/1.48/1.54/1.59/1.64/1.70 1.60:1.45/1.51/1.56/1.61/1.66/1.72 1.63:1.48/1.53/1.59/1.64/1.69/1.75
1.65:1.50/1.56/1.61/1.66/1.71/1.77 1.68:1.53/1.58/1.64/1.69/1.74/1.80 1.70:1.55/1.61/1.66/1.71/1.76/1.82 1.73:1.58/1.63/1.69/1.74/1.79/1.85
1.75:1.60/1.66/1.71/1.76/1.81/1.87 1.78:1.63/1.68/1.74/1.79/1.84/1.90 1.80:1.65/1.71/1.76/1.81/1.86/1.92 1.83:1.68/1.73/1.79/1.84/1.89/1.95
1.85:1.70/1.76/1.81/1.86/1.91/1.97 1.88:1.73/1.78/1.84/1.89/1.94/2.00 1.90:1.75/1.81/1.86/1.91/1.96/2.02 1.93:1.78/1.83/1.89/1.94/1.99/2.05
1.95:1.80/1.86/1.91/1.96/2.01/2.07 1.98:1.83/1.88/1.94/1.99/2.04/2.10 2.00:1.85/1.91/1.96/2.01/2.06/2.12 2.03:1.89/1.94/1.99/2.04/2.09
2.05:1.91/1.96/2.01/2.06/2.11 2.08:1.94/1.99/2.04/2.09/2.14 2.10:1.96/2.01/2.06/2.11
0.965:0.85/0.90/0.95/1.00/1.06 0.99:0.87/0.93/0.98/1.03/1.08 1.015:0.90/0.95/1.00/1.05/1.11 1.04:0.92/0.98/1.03/1.08/1.13
1.065:0.95/1.00/1.05/1.10/1.16 1.09:0.97/1.03/1.08/1.13/1.18 1.115:1.00/1.05/1.10/1.15/1.21 1.14:1.02/1.08/1.13/1.18/1.23
1.165:1.05/1.10/1.15/1.20/1.26 1.19:1.07/1.13/1.18/1.23/1.28 1.215:1.10/1.15/1.20/1.25/1.31 1.24:1.12/1.18/1.23/1.28/1.33
1.265:1.15/1.20/1.25/1.30/1.36 1.29:1.17/1.23/1.28/1.33/1.38 1.315:1.20/1.25/1.30/1.35/1.41 1.34:1.22/1.28/1.33/1.38/1.43
1.365:1.25/1.30/1.35/1.40/1.46 1.39:1.27/1.33/1.38/1.43/1.48 1.415:1.30/1.35/1.40/1.45/1.51 1.44:1.32/1.38/1.43/1.48/1.53
1.465:1.35/1.40/1.45/1.50/1.56 1.49:1.37/1.43/1.48/1.53/1.58 1.515:1.40/1.45/1.50/1.55/1.61 1.54:1.42/1.48/1.53/1.58/1.63
1.565:1.45/1.50/1.55/1.60/1.66 1.59:1.47/1.53/1.58/1.63/1.68 1.615:1.50/1.55/1.60/1.65/1.71 1.64:1.52/1.58/1.63/1.68/1.73
1.665:1.55/1.60/1.65/1.70/1.76 1.69:1.57/1.63/1.68/1.73/1.78 1.715:1.60/1.65/1.70/1.75/1.81 1.74:1.62/1.68/1.73/1.78/1.83
1.765:1.65/1.70/1.75/1.80/1.86 1.79:1.67/1.73/1.78/1.83/1.88 1.815:1.70/1.75/1.80/1.85/1.91 1.84:1.72/1.78/1.83/1.88/1.93
1.865:1.75/1.80/1.85/1.90/1.96 1.89:1.77/1.83/1.88/1.93/1.98 1.915:1.80/1.85/1.90/1.95/2.01 1.94:1.82/1.88/1.93/1.98/2.03
1.965:1.85/1.90/1.95/2.00/2.06 1.99:1.87/1.93/1.98/2.03/2.08 2.015:1.90/1.95/2.00/2.05/2.11 2.04:1.92/1.98/2.03/2.08
2.065:1.95/2.00/2.05/2.10 2.09:1.98/2.03/2.08`;

const ang17_Cols = `
1.38:1.28/1.33/1.38/1.43/1.48 1.40:1.29/1.35/1.40/1.45/1.50/1.55 1.42:1.30/1.36/1.41/1.46/1.51/1.57 1.44:1.30/1.37/1.42/1.47/1.52/1.58/1.63
1.46:1.31/1.38/1.43/1.48/1.54/1.60/1.65 1.48:1.32/1.39/1.45/1.50/1.55/1.61/1.67 1.50:1.33/1.40/1.46/1.52/1.57/1.63/1.69 1.52:1.34/1.41/1.48/1.53/1.59/1.65/1.71
1.54:1.36/1.43/1.49/1.55/1.61/1.67/1.73 1.56:1.37/1.44/1.51/1.57/1.63/1.69/1.75 1.58:1.39/1.46/1.52/1.58/1.64/1.71/1.77 1.60:1.40/1.47/1.54/1.60/1.66/1.72/1.79
1.62:1.42/1.49/1.56/1.62/1.68/1.74/1.81 1.64:1.44/1.51/1.58/1.64/1.70/1.76/1.83 1.66:1.46/1.53/1.59/1.65/1.72/1.78/1.85 1.68:1.48/1.55/1.61/1.67/1.73/1.80/1.87
1.70:1.50/1.57/1.63/1.69/1.75/1.82/1.88 1.72:1.52/1.58/1.65/1.71/1.77/1.83/1.90 1.74:1.54/1.60/1.67/1.73/1.79/1.85/1.92 1.76:1.56/1.62/1.69/1.75/1.81/1.87/1.93
1.78:1.58/1.64/1.70/1.77/1.83/1.89/1.95 1.80:1.60/1.66/1.72/1.78/1.84/1.91/1.97 1.82:1.62/1.68/1.74/1.80/1.86/1.92/1.99 1.84:1.64/1.70/1.76/1.82/1.88/1.94/2.00
1.86:1.66/1.72/1.78/1.84/1.90/1.96/2.02 1.88:1.68/1.74/1.80/1.86/1.92/1.98/2.04 1.90:1.70/1.76/1.82/1.88/1.94/2.00/2.06 1.92:1.73/1.79/1.85/1.90/1.96/2.02
1.94:1.75/1.81/1.87/1.92/1.98/2.04 1.96:1.77/1.83/1.89/1.94/2.00/2.06 1.98:1.80/1.86/1.91/1.97/2.03 2.00:1.82/1.88/1.93/1.99/2.05
2.02:1.85/1.90/1.96/2.01/2.07 2.04:1.88/1.93/1.98/2.04
1.39:1.31/1.36/1.41/1.46 1.41:1.32/1.38/1.43/1.48/1.53 1.43:1.33/1.39/1.44/1.49/1.55 1.45:1.34/1.40/1.45/1.51/1.57/1.62
1.47:1.35/1.41/1.47/1.52/1.58/1.64 1.49:1.36/1.43/1.48/1.54/1.60/1.66 1.51:1.37/1.44/1.50/1.56/1.62/1.68 1.53:1.38/1.45/1.51/1.57/1.63/1.70
1.55:1.40/1.47/1.53/1.59/1.65/1.71 1.57:1.41/1.48/1.54/1.61/1.67/1.73 1.59:1.43/1.50/1.56/1.62/1.68/1.75 1.61:1.44/1.51/1.58/1.64/1.70/1.76
1.63:1.46/1.53/1.60/1.66/1.72/1.78 1.65:1.48/1.55/1.62/1.68/1.74/1.80 1.67:1.50/1.57/1.63/1.70/1.76/1.82 1.69:1.52/1.59/1.65/1.71/1.78/1.84
1.71:1.54/1.61/1.67/1.73/1.79/1.86 1.73:1.56/1.62/1.69/1.75/1.81/1.87 1.75:1.58/1.64/1.71/1.77/1.83/1.89 1.77:1.60/1.66/1.72/1.79/1.85/1.91
1.79:1.62/1.68/1.74/1.80/1.87/1.93 1.81:1.64/1.70/1.76/1.82/1.88/1.95 1.83:1.66/1.72/1.78/1.84/1.90/1.96 1.85:1.68/1.74/1.80/1.86/1.92/1.98
1.87:1.70/1.76/1.82/1.88/1.94/2.00 1.89:1.72/1.78/1.84/1.90/1.96/2.02 1.91:1.74/1.80/1.86/1.92/1.98/2.04 1.93:1.76/1.82/1.88/1.94/2.00
1.95:1.78/1.84/1.90/1.96/2.02 1.97:1.81/1.87/1.92/1.98/2.04 1.99:1.84/1.89/1.95/2.01 2.01:1.86/1.92/1.98/2.04 2.03:1.89/1.95/2.01`;

const angIII_Cols = `
-0.15:-0.30/-0.22/-0.14/-0.06/0.02/0.10 -0.13:-0.28/-0.20/-0.12/-0.04/0.04/0.12 -0.10:-0.24/-0.16/-0.09/-0.01/0.06/0.14/0.22 -0.08:-0.22/-0.14/-0.06/0.01/0.08/0.16/0.24
-0.05:-0.20/-0.12/-0.04/0.04/0.11/0.19/0.26 -0.03:-0.18/-0.10/-0.02/0.06/0.13/0.21/0.28 0.00:-0.16/-0.08/0.01/0.08/0.16/0.23/0.30 0.03:-0.13/-0.05/0.03/0.11/0.18/0.26/0.33
0.05:-0.11/-0.03/0.05/0.13/0.20/0.28/0.35 0.08:-0.08/0.00/0.08/0.15/0.23/0.31/0.38 0.10:-0.06/0.02/0.10/0.18/0.25/0.33/0.40 0.13:-0.03/0.05/0.13/0.20/0.28/0.36/0.43
0.15:-0.01/0.07/0.15/0.23/0.30/0.38/0.45 0.18:0.02/0.10/0.18/0.25/0.33/0.41/0.48 0.20:0.04/0.12/0.20/0.28/0.35/0.43/0.50 0.23:0.07/0.15/0.23/0.30/0.38/0.46/0.53
0.25:0.09/0.17/0.25/0.33/0.40/0.48/0.55 0.28:0.12/0.20/0.28/0.35/0.43/0.51/0.58 0.30:0.14/0.22/0.30/0.38/0.45/0.53/0.60 0.33:0.17/0.25/0.33/0.40/0.48/0.56/0.63
0.35:0.19/0.27/0.35/0.43/0.50/0.58/0.65 0.38:0.22/0.30/0.38/0.45/0.53/0.61/0.68 0.40:0.24/0.32/0.40/0.48/0.55/0.63/0.70 0.43:0.27/0.35/0.43/0.50/0.58/0.66/0.73
0.45:0.29/0.37/0.45/0.53/0.60/0.68/0.75 0.48:0.32/0.40/0.48/0.55/0.63/0.71/0.78 0.50:0.34/0.42/0.50/0.58/0.65/0.73/0.80 0.53:0.37/0.45/0.53/0.60/0.68/0.76/0.83
0.55:0.39/0.47/0.55/0.63/0.70/0.78/0.85 0.58:0.42/0.50/0.58/0.65/0.73/0.81/0.88 0.60:0.44/0.52/0.60/0.68/0.75/0.83/0.90 0.63:0.47/0.55/0.63/0.70/0.78/0.86/0.93
0.65:0.49/0.57/0.65/0.73/0.80/0.88/0.95 0.68:0.52/0.60/0.68/0.75/0.83/0.91/0.98 0.70:0.54/0.62/0.70/0.78/0.85/0.93/1.00 0.73:0.57/0.65/0.73/0.80/0.88/0.96
0.75:0.59/0.67/0.75/0.83/0.90/0.98 0.78:0.62/0.70/0.78/0.85/0.93/1.01 0.80:0.64/0.72/0.80/0.88/0.95/1.03 0.83:0.68/0.76/0.83/0.91/0.98
0.85:0.70/0.78/0.86/0.93/1.00 0.88:0.74/0.82/0.89/0.96 0.90:0.76/0.84/0.91/0.98 0.93:0.80/0.87/0.94 0.95:0.82/0.89/0.96
-0.14:-0.34/-0.26/-0.18/-0.10/-0.02/0.05 -0.115:-0.32/-0.24/-0.16/-0.08/0.00/0.08 -0.09:-0.29/-0.21/-0.13/-0.05/0.03/0.10 -0.065:-0.27/-0.19/-0.11/-0.03/0.06/0.13
-0.04:-0.24/-0.16/-0.08/0.00/0.08/0.15 -0.015:-0.22/-0.14/-0.06/0.03/0.11/0.18 0.015:-0.19/-0.11/-0.03/0.06/0.14/0.21 0.04:-0.16/-0.08/0.00/0.08/0.16/0.23
0.065:-0.14/-0.06/0.03/0.11/0.19/0.26 0.09:-0.11/-0.03/0.05/0.13/0.21/0.28 0.115:-0.09/-0.01/0.08/0.16/0.24/0.31 0.14:-0.06/0.02/0.10/0.18/0.26/0.33
0.165:-0.04/0.05/0.13/0.21/0.29/0.36 0.19:-0.01/0.07/0.15/0.23/0.31/0.38 0.215:0.02/0.10/0.18/0.26/0.34/0.41 0.24:0.04/0.12/0.20/0.28/0.36/0.43
0.265:0.07/0.15/0.23/0.31/0.39/0.46 0.29:0.09/0.17/0.25/0.33/0.41/0.48 0.315:0.12/0.20/0.28/0.36/0.44/0.51 0.34:0.14/0.22/0.30/0.38/0.46/0.53
0.365:0.17/0.25/0.33/0.41/0.49/0.56 0.39:0.19/0.27/0.35/0.43/0.51/0.58 0.415:0.22/0.30/0.38/0.46/0.54/0.61 0.44:0.24/0.32/0.40/0.48/0.56/0.63
0.465:0.27/0.35/0.43/0.51/0.59/0.66 0.49:0.29/0.37/0.45/0.53/0.61/0.68 0.515:0.32/0.40/0.48/0.56/0.64/0.71 0.54:0.34/0.42/0.50/0.58/0.66/0.73
0.565:0.37/0.45/0.53/0.61/0.69/0.76 0.59:0.39/0.47/0.55/0.63/0.71/0.78 0.615:0.42/0.50/0.58/0.66/0.74/0.81 0.64:0.44/0.52/0.60/0.68/0.76/0.83
0.665:0.47/0.55/0.63/0.71/0.79/0.86 0.69:0.49/0.57/0.65/0.73/0.81/0.88 0.715:0.52/0.60/0.68/0.76/0.84/0.91 0.74:0.54/0.62/0.70/0.78/0.86/0.93
0.765:0.57/0.65/0.73/0.81/0.89 0.79:0.59/0.67/0.75/0.83/0.91 0.815:0.62/0.70/0.78/0.86/0.94 0.84:0.66/0.74/0.82/0.90/0.97
0.865:0.69/0.77/0.85/0.93 0.89:0.72/0.80/0.88/0.95 0.915:0.76/0.84/0.91 0.94:0.79/0.87/0.94`;

const angIV_Cols = `
0.45:0.40/0.48/0.56/0.63/0.70 0.48:0.42/0.50/0.58/0.65/0.73 0.50:0.38/0.46/0.53/0.61/0.68/0.76 0.53:0.40/0.48/0.56/0.63/0.71/0.79
0.55:0.42/0.50/0.58/0.66/0.73/0.81 0.58:0.44/0.52/0.60/0.68/0.76/0.84 0.60:0.46/0.54/0.62/0.70/0.78/0.86 0.63:0.48/0.56/0.64/0.72/0.80/0.88/0.96
0.65:0.50/0.58/0.66/0.74/0.82/0.90/0.98 0.68:0.52/0.60/0.68/0.76/0.84/0.92/1.00 0.70:0.54/0.62/0.70/0.78/0.86/0.94/1.02 0.73:0.56/0.64/0.72/0.80/0.88/0.96/1.04
0.75:0.58/0.66/0.74/0.82/0.90/0.98/1.06 0.78:0.60/0.68/0.76/0.84/0.92/1.00/1.08 0.80:0.62/0.70/0.78/0.86/0.94/1.02/1.10 0.83:0.65/0.73/0.81/0.89/0.97/1.05/1.13
0.85:0.67/0.75/0.83/0.91/0.99/1.07/1.15 0.88:0.70/0.78/0.86/0.94/1.02/1.10/1.18 0.90:0.72/0.80/0.88/0.96/1.04/1.12/1.20 0.93:0.74/0.82/0.90/0.98/1.06/1.14/1.22
0.95:0.76/0.84/0.92/1.00/1.08/1.16/1.24 0.98:0.79/0.87/0.95/1.03/1.11/1.19/1.27 1.00:0.81/0.89/0.97/1.05/1.13/1.21/1.29 1.03:0.84/0.92/1.00/1.08/1.16/1.24/1.32
1.05:0.86/0.94/1.02/1.10/1.18/1.26/1.34 1.08:0.89/0.97/1.05/1.13/1.21/1.29 1.10:0.91/0.99/1.07/1.15/1.23/1.31 1.13:0.95/1.03/1.11/1.19/1.27
1.15:0.97/1.05/1.13/1.21/1.29 1.18:1.00/1.08/1.16/1.24 1.20:1.02/1.10/1.18/1.26 1.23:1.05/1.13/1.21 1.25:1.08/1.16/1.24
0.465:0.44/0.52/0.60/0.68 0.49:0.43/0.51/0.59/0.67/0.75 0.515:0.42/0.50/0.58/0.66/0.74 0.54:0.40/0.48/0.56/0.64/0.72/0.80
0.565:0.43/0.51/0.59/0.67/0.75/0.83 0.59:0.45/0.53/0.61/0.69/0.77/0.85 0.615:0.47/0.55/0.63/0.71/0.79/0.87 0.64:0.50/0.58/0.66/0.74/0.82/0.90
0.665:0.52/0.60/0.68/0.76/0.84/0.92 0.69:0.55/0.63/0.71/0.79/0.87/0.95 0.715:0.57/0.65/0.73/0.81/0.89/0.97 0.74:0.60/0.68/0.76/0.84/0.92/1.00
0.765:0.62/0.70/0.78/0.86/0.94/1.02 0.79:0.65/0.73/0.81/0.89/0.97/1.05 0.815:0.67/0.75/0.83/0.91/0.99/1.07 0.84:0.70/0.78/0.86/0.94/1.02/1.10
0.865:0.72/0.80/0.88/0.96/1.04/1.12 0.89:0.75/0.83/0.91/0.99/1.07/1.15 0.915:0.77/0.85/0.93/1.01/1.09/1.17 0.94:0.80/0.88/0.96/1.04/1.12/1.20
0.965:0.82/0.90/0.98/1.06/1.14/1.22 0.99:0.85/0.93/1.01/1.09/1.17/1.25 1.015:0.87/0.95/1.03/1.11/1.19/1.27 1.04:0.90/0.98/1.06/1.14/1.22/1.30
1.065:0.92/1.00/1.08/1.16/1.24 1.09:0.95/1.03/1.11/1.19/1.27 1.115:0.97/1.05/1.13/1.21/1.29 1.14:1.00/1.08/1.16/1.24
1.165:1.02/1.10/1.18/1.26 1.19:1.05/1.13/1.21 1.215:1.08/1.16/1.24 1.24:1.12/1.20`;

// Smoothed (loess) trend of observed on simulated, per panel
const loessFits = [
  [[3.03,3.17],[3.25,3.32],[3.5,3.49],[3.75,3.72],[4.0,3.98],[4.25,4.25],[4.5,4.54],[4.75,4.84],[5.0,5.12],[5.13,5.26]],
  [[1.52,1.49],[1.75,1.72],[2.0,1.95],[2.25,2.2],[2.5,2.45],[2.75,2.72],[2.92,2.92]],
  [[0.69,0.67],[1.0,0.99],[1.25,1.24],[1.5,1.495],[1.75,1.74],[2.0,1.98],[2.36,2.3]],
  [[1.16,0.98],[1.25,1.22],[1.37,1.41],[1.52,1.54],[1.64,1.62],[1.75,1.75],[1.88,1.855],[2.0,1.97],[2.14,2.06],[2.27,2.105]],
  [[-0.39,-0.39],[0.0,-0.06],[0.25,0.18],[0.5,0.46],[0.75,0.73],[1.0,1.03],[1.25,1.38],[1.41,1.63]],
  [[0.03,-0.15],[0.25,0.17],[0.5,0.5],[0.75,0.78],[1.0,1.02],[1.25,1.25],[1.55,1.52]]
];

const parsePairs = s => s.trim().split(/\s+/).map(p => p.split(",").map(Number));
const parseCols = s => s.trim().split(/\s+/).flatMap(c => {
  const [sim, obs] = c.split(":");
  return obs.split("/").map(o => [+sim, +o]);
});
const pointSets = [
  [benazeprilatPts, benazeprilatCols], [angI_Pts, angI_Cols], [angII_Pts, angII_Cols],
  [ang17_Pts, ang17_Cols], [angIII_Pts, angIII_Cols], [angIV_Pts, angIV_Cols]
].map(([p, c]) => parsePairs(p).concat(parseCols(c)));

// ---- layout ----
const W = 902, H = 678;
const colLeft = [104, 398, 692];
const rowTop = [80, 384];
const plotW = 218, plotH = 219, stripH = 34;

const textColor = "#8C3426";
const axisColor = "#9B4A36";
const stripColor = "#A0522D";
const gridColor = "#E3CCE3";
const pointColor = "#8B1A1A";
const font = "'Liberation Sans', Arial, Helvetica, sans-serif";

const svg = d3.select("body").append("svg")
  .attr("width", W).attr("height", H)
  .style("font-family", font);

svg.append("text")
  .attr("x", 108).attr("y", 32)
  .attr("fill", textColor)
  .attr("font-size", 25).attr("font-weight", "bold")
  .text("Observations vs. Predictions");

const fmt = d3.format(".1f");

analytes.forEach((name, i) => {
  const col = i % 3, row = Math.floor(i / 3);
  const x0 = colLeft[col], y0 = rowTop[row];
  const g = svg.append("g").attr("transform", `translate(${x0},${y0})`);

  const x = d3.scaleLinear().domain(xDomains[i]).range([0, plotW]);
  const y = d3.scaleLinear().domain(yDomains[i]).range([plotH, 0]);
  const step = tickSteps[i];

  const ticksIn = (dom, s) => d3.range(Math.ceil(dom[0] / s - 1e-9), Math.floor(dom[1] / s + 1e-9) + 1).map(k => +(k * s).toFixed(4));
  const xTicks = ticksIn(xDomains[i], step), yTicks = ticksIn(yDomains[i], step);
  const xGrid = ticksIn(xDomains[i], step / 2), yGrid = ticksIn(yDomains[i], step / 2);

  const clipId = "clip" + i;
  g.append("clipPath").attr("id", clipId)
    .append("rect").attr("width", plotW).attr("height", plotH);

  // grid
  const grid = g.append("g").attr("stroke", gridColor).attr("stroke-width", 1);
  grid.selectAll(".vx").data(xGrid).join("line")
    .attr("x1", d => x(d)).attr("x2", d => x(d)).attr("y1", 0).attr("y2", plotH);
  grid.selectAll(".hy").data(yGrid).join("line")
    .attr("y1", d => y(d)).attr("y2", d => y(d)).attr("x1", 0).attr("x2", plotW);

  // panel border (top / right)
  g.append("rect").attr("width", plotW).attr("height", plotH)
    .attr("fill", "none").attr("stroke", "#A9A9A9").attr("stroke-width", 1);

  const body = g.append("g").attr("clip-path", `url(#${clipId})`);

  body.append("g").selectAll("circle").data(pointSets[i]).join("circle")
    .attr("cx", d => x(d[0])).attr("cy", d => y(d[1])).attr("r", 4.3)
    .attr("fill", "none").attr("stroke", pointColor)
    .attr("stroke-opacity", 0.32).attr("stroke-width", 1.6);

  // line of identity
  const lo = Math.min(xDomains[i][0], yDomains[i][0]) - 1;
  const hi = Math.max(xDomains[i][1], yDomains[i][1]) + 1;
  body.append("line")
    .attr("x1", x(lo)).attr("y1", y(lo)).attr("x2", x(hi)).attr("y2", y(hi))
    .attr("stroke", "#000").attr("stroke-width", 2);

  body.append("path")
    .datum(loessFits[i])
    .attr("d", d3.line().x(d => x(d[0])).y(d => y(d[1])).curve(d3.curveBasis))
    .attr("fill", "none").attr("stroke", "#FFA500").attr("stroke-width", 4);

  // axes
  const xAxis = g.append("g").attr("transform", `translate(0,${plotH})`)
    .call(d3.axisBottom(x).tickValues(xTicks).tickFormat(fmt).tickSizeOuter(0).tickSize(5).tickPadding(4));
  const yAxis = g.append("g")
    .call(d3.axisLeft(y).tickValues(yTicks).tickFormat(fmt).tickSizeOuter(0).tickSize(5).tickPadding(3));
  [xAxis, yAxis].forEach(a => {
    a.select(".domain").attr("stroke", axisColor).attr("stroke-width", 2);
    a.selectAll(".tick line").attr("stroke", axisColor).attr("stroke-width", 1.5);
    a.selectAll(".tick text").attr("fill", textColor).attr("font-size", 16).attr("font-family", font);
  });

  // strip
  g.append("rect").attr("x", 0).attr("y", -stripH).attr("width", plotW).attr("height", stripH)
    .attr("fill", stripColor);
  g.append("text").attr("x", plotW / 2).attr("y", -stripH / 2 + 6.5)
    .attr("text-anchor", "middle").attr("fill", "#FBF1EA")
    .attr("font-size", 18).text(name);
});

// axis titles with subscripted log base
function axisTitle(sel, lead) {
  sel.append("tspan").text(lead + " log");
  sel.append("tspan").attr("font-size", 19).attr("dy", 6).text("10");
  sel.append("tspan").attr("dy", -6).text("(pmol/L)");
}
svg.append("text")
  .attr("x", 492).attr("y", 668)
  .attr("text-anchor", "middle").attr("fill", textColor).attr("font-size", 27)
  .call(axisTitle, "simulations");
svg.append("text")
  .attr("transform", "translate(36,314) rotate(-90)")
  .attr("text-anchor", "middle").attr("fill", textColor).attr("font-size", 27)
  .call(axisTitle, "observations");
</script>
</body>
</html>
